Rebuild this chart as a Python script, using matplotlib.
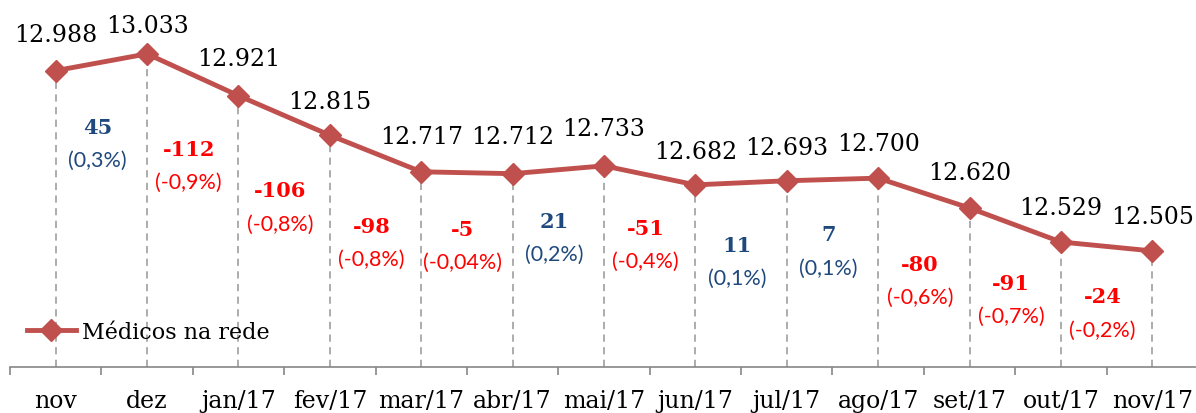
import matplotlib
matplotlib.use("Agg")
import matplotlib.pyplot as plt
import numpy as np

# ---- data ----
categories = ["nov", "dez", "jan/17", "fev/17", "mar/17", "abr/17", "mai/17",
              "jun/17", "jul/17", "ago/17", "set/17", "out/17", "nov/17"]
medicos = [12988, 13033, 12921, 12815, 12717, 12712, 12733,
           12682, 12693, 12700, 12620, 12529, 12505]
deltas = [45, -112, -106, -98, -5, 21, -51, 11, 7, -80, -91, -24]
pct_labels = ["(0,3%)", "(-0,9%)", "(-0,8%)", "(-0,8%)", "(-0,04%)", "(0,2%)",
              "(-0,4%)", "(0,1%)", "(0,1%)", "(-0,6%)", "(-0,7%)", "(-0,2%)"]
series_name = "Médicos na rede"

# ---- layout (pixel offsets) ----
value_offsets_px = [36, 28, 37, 34, 35, 37, 37, 33, 33, 35, 36, 34, 34]
delta_offsets_px = [65, 74, 75, 72, 56, 51, 53, 62, 55, 71, 58, 50]
pct_gap_px = 33
delta_dx_px = -4

LINE_COLOR = "#C0504D"
BLUE = "#1F497D"
RED = "#FF0000"
SERIF = "DejaVu Serif"
SANS = "Lato"

fig = plt.figure(figsize=(11.96, 4.14), dpi=100)
ax = fig.add_axes([10 / 1196, 46 / 414, 1188 / 1196, 368 / 414])

x = np.arange(len(categories))
ax.set_xlim(-0.5, len(categories) - 0.5)
ax.set_ylim(12194, 13180)

# dashed drop lines
ax.vlines(x, 12194, medicos, colors="#A6A6A6", linestyles=(0, (4, 3)),
          linewidth=1.3, zorder=1)

ax.plot(x, medicos, color=LINE_COLOR, linewidth=3.5, marker="D",
        markersize=11, markerfacecolor=LINE_COLOR, markeredgecolor=LINE_COLOR,
        zorder=3, label=series_name)

# value labels
for xi, v, off in zip(x, medicos, value_offsets_px):
    ax.annotate(f"{v:,}".replace(",", "."), (xi, v), xytext=(0, off),
                textcoords="offset pixels", ha="center", va="center",
                fontsize=17, family=SERIF, color="black")

# delta labels
for i, (d, p, off) in enumerate(zip(deltas, pct_labels, delta_offsets_px)):
    xm = i + 0.5
    ym = (medicos[i] + medicos[i + 1]) / 2
    col = BLUE if d > 0 else RED
    ax.annotate(f"{d}", (xm, ym), xytext=(delta_dx_px, -off),
                textcoords="offset pixels",
                ha="center", va="center", fontsize=15, fontweight="bold",
                family=SERIF, color=col)
    ax.annotate(p, (xm, ym), xytext=(delta_dx_px, -off - pct_gap_px),
                textcoords="offset pixels", ha="center", va="center",
                fontsize=15.5, family=SANS, color=col)

# axes styling
for s in ["top", "right", "left"]:
    ax.spines[s].set_visible(False)
ax.spines["bottom"].set_color("#868686")
ax.spines["bottom"].set_linewidth(1.2)
ax.set_yticks([])
ax.set_xticks(x)
ax.set_xticklabels(categories, fontsize=17, family=SERIF)
ax.tick_params(axis="x", which="major", length=0, pad=16)
ax.set_xticks(np.arange(-0.5, len(categories)), minor=True)
ax.tick_params(axis="x", which="minor", length=6, width=1.2, color="#868686",
               direction="out")

leg = ax.legend(loc="center left", bbox_to_anchor=(0.014, 0.095),
                frameon=False, borderpad=0, borderaxespad=0,
                handlelength=2.2, handletextpad=0.3,
                prop={"family": SERIF, "size": 16})

fig.savefig("out.png", dpi=100)
